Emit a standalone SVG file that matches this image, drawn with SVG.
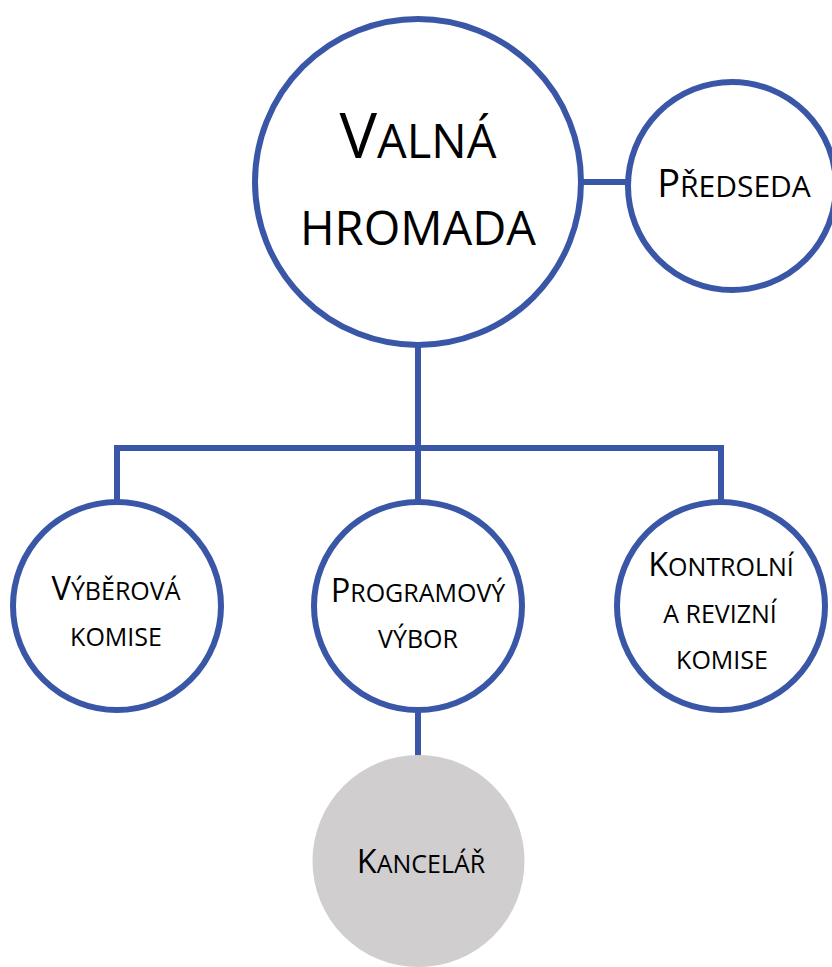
<svg xmlns="http://www.w3.org/2000/svg" width="832" height="967" viewBox="0 0 832 967">
<style>
.n{fill:#fff;stroke:#3A57A7;stroke-width:6}
.g{fill:#D0CECF;stroke:none}
.c{fill:none;stroke:#3A57A7;stroke-width:6}
text{font-family:"Open Sans","Noto Sans","Liberation Sans",sans-serif;fill:#000;text-anchor:middle}
</style>
<rect width="832" height="967" fill="#fff"/>
<g id="connectors">
<line class="c" x1="581" y1="182" x2="628" y2="182"/>
<line class="c" x1="418" y1="344" x2="418" y2="448"/>
<polyline class="c" points="117,503 117,448 721,448 721,503"/>
<line class="c" x1="418" y1="448" x2="418" y2="503"/>
<line class="c" x1="418" y1="709" x2="418" y2="757"/>
</g>
<g id="valna-hromada">
<circle class="n" cx="418" cy="182" r="163"/>
<text x="418" y="158"><tspan font-size="63">V</tspan><tspan font-size="47">ALNÁ</tspan></text>
<text x="418" y="245" font-size="47">HROMADA</text>
</g>
<g id="predseda">
<circle class="n" cx="732" cy="186" r="104"/>
<text x="734" y="197"><tspan font-size="38">P</tspan><tspan font-size="30">ŘEDSEDA</tspan></text>
</g>
<g id="vyberova-komise">
<circle class="n" cx="117" cy="606" r="104"/>
<text x="116" y="600"><tspan font-size="32.5">V</tspan><tspan font-size="25">ÝBĚROVÁ</tspan></text>
<text x="116" y="646" font-size="25">KOMISE</text>
</g>
<g id="programovy-vybor">
<circle class="n" cx="418" cy="606" r="104"/>
<text x="418" y="602"><tspan font-size="32.5">P</tspan><tspan font-size="25">ROGRAMOVÝ</tspan></text>
<text x="418" y="648" font-size="25">VÝBOR</text>
</g>
<g id="kontrolni-komise">
<circle class="n" cx="721" cy="606" r="104"/>
<text x="721" y="576"><tspan font-size="32.5">K</tspan><tspan font-size="25">ONTROLNÍ</tspan></text>
<text x="720" y="623" font-size="25">A REVIZNÍ</text>
<text x="722" y="669" font-size="25">KOMISE</text>
</g>
<g id="kancelar">
<circle class="g" cx="418.5" cy="861" r="106"/>
<text x="421" y="873"><tspan font-size="32.5">K</tspan><tspan font-size="25">ANCELÁŘ</tspan></text>
</g>
</svg>
